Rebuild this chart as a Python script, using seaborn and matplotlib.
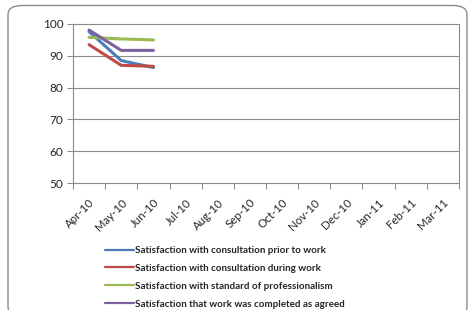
import matplotlib
matplotlib.use("Agg")
import matplotlib.pyplot as plt
import seaborn as sns
import pandas as pd
from matplotlib.patches import FancyBboxPatch
from matplotlib.lines import Line2D
import matplotlib.transforms as mtransforms

months = ["Apr-10", "May-10", "Jun-10", "Jul-10", "Aug-10", "Sep-10",
          "Oct-10", "Nov-10", "Dec-10", "Jan-11", "Feb-11", "Mar-11"]
observed_months = ["Apr-10", "May-10", "Jun-10"]
series_names = [
    "Satisfaction with consultation prior to work",
    "Satisfaction with consultation during work",
    "Satisfaction with standard of professionalism",
    "Satisfaction that work was completed as agreed",
]
prior_to_work = [97.6, 88.5, 86.3]
during_work = [93.5, 87.0, 86.7]
professionalism = [95.8, 95.3, 95.0]
completed_as_agreed = [98.1, 91.7, 91.7]
colors = ["#4A7EBB", "#BE4B48", "#98B954", "#7D60A0"]
yticks = [50, 60, 70, 80, 90, 100]

rows = []
for name, vals in zip(series_names, [prior_to_work, during_work, professionalism, completed_as_agreed]):
    for m, v in zip(observed_months, vals):
        rows.append({"series": name, "pos": months.index(m), "value": v})
df = pd.DataFrame(rows)

sns.set_theme(style="white")
plt.rcParams["font.family"] = ["Lato", "DejaVu Sans"]

fig = plt.figure(figsize=(4.68, 3.10), dpi=100)
ax = fig.add_axes([73/468, 1-183/310, (459-73)/468, (183-24)/310])

# rounded outer frame
frame = FancyBboxPatch((8/468, 1-316/310), (467-8)/468, (316-5.5)/310,
                       boxstyle="round,pad=0,rounding_size=0.03",
                       transform=fig.transFigure, fill=False,
                       edgecolor="#8C8C8C", linewidth=1.0, zorder=0)
fig.add_artist(frame)

for y in yticks[1:-1]:
    ax.axhline(y, color="#8C8C8C", linewidth=0.8, zorder=1)

sns.lineplot(data=df, x="pos", y="value", hue="series", hue_order=series_names,
             palette=colors, linewidth=2.2, ax=ax, legend=False, zorder=3)

ax.set_xlim(-0.5, 11.5)
ax.set_ylim(50, 100)
ax.set_yticks(yticks)
ax.set_yticklabels([str(v) for v in yticks], fontsize=8.5)
ax.set_xticks(range(len(months)))
ax.set_xticklabels(months, rotation=45, ha="right", rotation_mode="anchor", fontsize=8.3)
offset = mtransforms.ScaledTranslation(5/100, 0, fig.dpi_scale_trans)
for lab in ax.get_xticklabels():
    lab.set_transform(lab.get_transform() + offset)
ax.set_xticks([i - 0.5 for i in range(len(months) + 1)], minor=True)
ax.tick_params(axis="x", which="major", length=0, pad=10)
ax.tick_params(axis="x", which="minor", length=4, color="#8C8C8C", width=0.8, direction="out", bottom=True)
ax.tick_params(axis="y", length=4, color="#8C8C8C", width=0.8, direction="out", left=True, pad=3)
ax.set_xlabel("")
ax.set_ylabel("")
for s in ["left", "bottom", "top", "right"]:
    ax.spines[s].set_visible(True)
    ax.spines[s].set_color("#8C8C8C")
    ax.spines[s].set_linewidth(0.8)

handles = [Line2D([0], [0], color=c, linewidth=1.6) for c in colors]
leg = fig.legend(handles, series_names, loc="upper left",
                 bbox_to_anchor=(105/468, 1-246/310), frameon=False,
                 prop={"size": 7.1, "weight": "bold"}, handlelength=2.95,
                 handletextpad=0.1, labelspacing=0.9, borderaxespad=0, borderpad=0)

fig.savefig("out.png", dpi=100)
